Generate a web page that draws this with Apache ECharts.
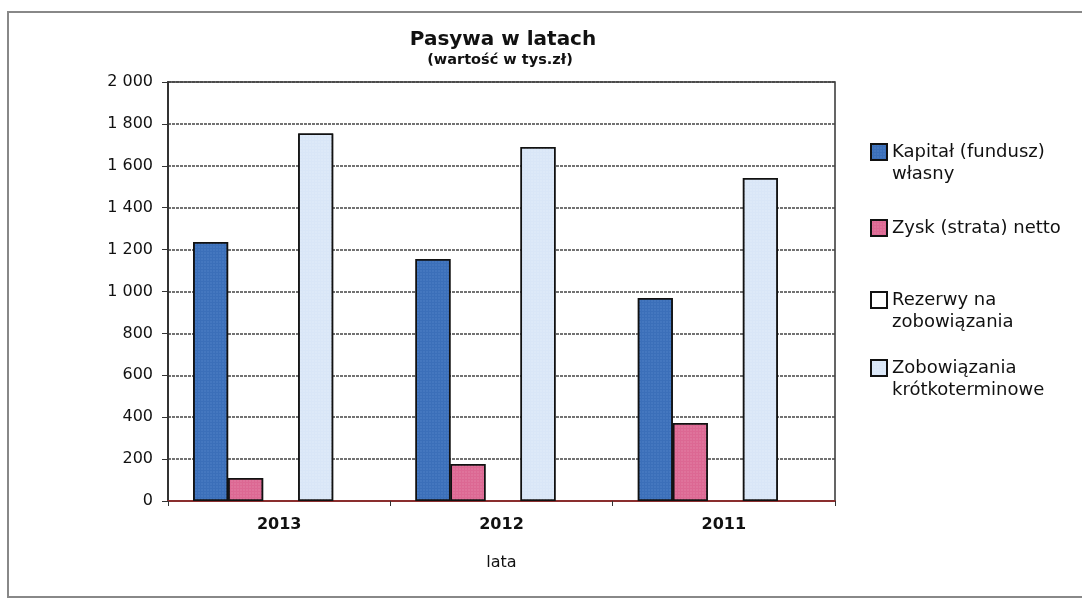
<!DOCTYPE html>
<html><head><meta charset="utf-8">
<script src="https://cdn.jsdelivr.net/npm/echarts@6/dist/echarts.min.js"></script>
<style>html,body{margin:0;padding:0;background:#fff}#c{width:1082px;height:601px}</style>
</head><body><div id="c"></div>
<script>
const categories = ['2013', '2012', '2011'];
const seriesNames = ['Kapitał (fundusz)\nwłasny', 'Zysk (strata) netto', 'Rezerwy na\nzobowiązania', 'Zobowiązania\nkrótkoterminowe'];
const kapital = [1236, 1155, 969];
const zysk = [110, 177, 372];
const rezerwy = [0, 0, 0];
const zobowiazania = [1754, 1690, 1542];
const yTicks = [0, 200, 400, 600, 800, 1000, 1200, 1400, 1600, 1800, 2000];

const colors = ['#3b6fb9', '#dc6893', '#ffffff', '#d9e6f7'];
const values = [kapital, zysk, rezerwy, zobowiazania];
const font = '"DejaVu Sans", "Liberation Sans", Arial, sans-serif';

const chart = echarts.init(document.getElementById('c'));
const legendTops = [114, 212, 262, 330];
const twoLine = [true, false, true, true];
chart.setOption({
  animation: false,
  backgroundColor: '#fff',
  title: [
    {text: 'Pasywa w latach', left: 498, top: 25, textAlign: 'center',
     textStyle: {fontFamily: font, fontSize: 20, fontWeight: 'bold', color: '#111'}},
    {text: '(wartość w tys.zł)', left: 495, top: 48, textAlign: 'center',
     textStyle: {fontFamily: font, fontSize: 14.5, fontWeight: 'bold', color: '#111'}}
  ],
  legend: seriesNames.map((n, i) => ({
    data: [n], left: 865, top: legendTops[i], orient: 'vertical',
    icon: 'rect', itemWidth: 16, itemHeight: 16, itemGap: 10,
    formatter: name => (twoLine[i] ? '\n' : '') + name,
    textStyle: {fontFamily: font, fontSize: 18, color: '#111', lineHeight: 22},
    itemStyle: {borderColor: '#111', borderWidth: 2},
    selectedMode: false
  })),
  grid: [
    {left: 168, right: 247, top: 82, bottom: 100, show: true, borderColor: '#333', borderWidth: 1.5},
    {left: 152, right: 263, top: 82, bottom: 100}
  ],
  xAxis: [{
    type: 'category', data: categories, gridIndex: 0,
    name: 'lata', nameLocation: 'middle', nameGap: 54,
    nameTextStyle: {fontFamily: font, fontSize: 16, color: '#111'},
    axisLine: {lineStyle: {color: '#8a2e2e', width: 2}},
    axisTick: {show: true, length: 5, lineStyle: {color: '#333'}},
    axisLabel: {fontFamily: font, fontSize: 16, fontWeight: 'bold', color: '#111', margin: 16}
  }, {
    type: 'category', data: categories, gridIndex: 1, show: false
  }],
  yAxis: [{
    type: 'value', min: 0, max: 2000, interval: 200, gridIndex: 0,
    axisLine: {show: true, lineStyle: {color: '#333', width: 2}},
    axisTick: {show: true, length: 6, lineStyle: {color: '#333'}},
    axisLabel: {fontFamily: font, fontSize: 16, color: '#111', margin: 15,
      formatter: v => yTicks.includes(v) ? String(v).replace(/\B(?=(\d{3})+(?!\d))/g, ' ') : ''},
    splitLine: {lineStyle: {color: '#444', type: [3, 1], width: 1.5}}
  }, {
    type: 'value', min: 0, max: 2000, interval: 200, gridIndex: 1, show: false,
    splitLine: {show: false}
  }],
  series: seriesNames.map((n, i) => ({
    name: n, type: 'bar', data: values[i], xAxisIndex: 1, yAxisIndex: 1,
    barGap: '0%', barCategoryGap: '37%',
    itemStyle: {color: colors[i], borderColor: '#111', borderWidth: i === 2 ? 0 : 1.5,
      decal: i === 2 ? null : {symbol: 'rect', symbolSize: 0.5, dashArrayX: [2, 1], dashArrayY: [2, 1],
        color: i === 0 ? 'rgba(180,210,255,0.35)' : (i === 1 ? 'rgba(255,220,235,0.4)' : 'rgba(255,255,255,0.5)')}}
  })),
  graphic: [
    {type: 'rect', shape: {x: 8, y: 12, width: 1090, height: 585},
     style: {fill: 'none', stroke: '#888', lineWidth: 2}, silent: true}
  ]
});
</script></body></html>
